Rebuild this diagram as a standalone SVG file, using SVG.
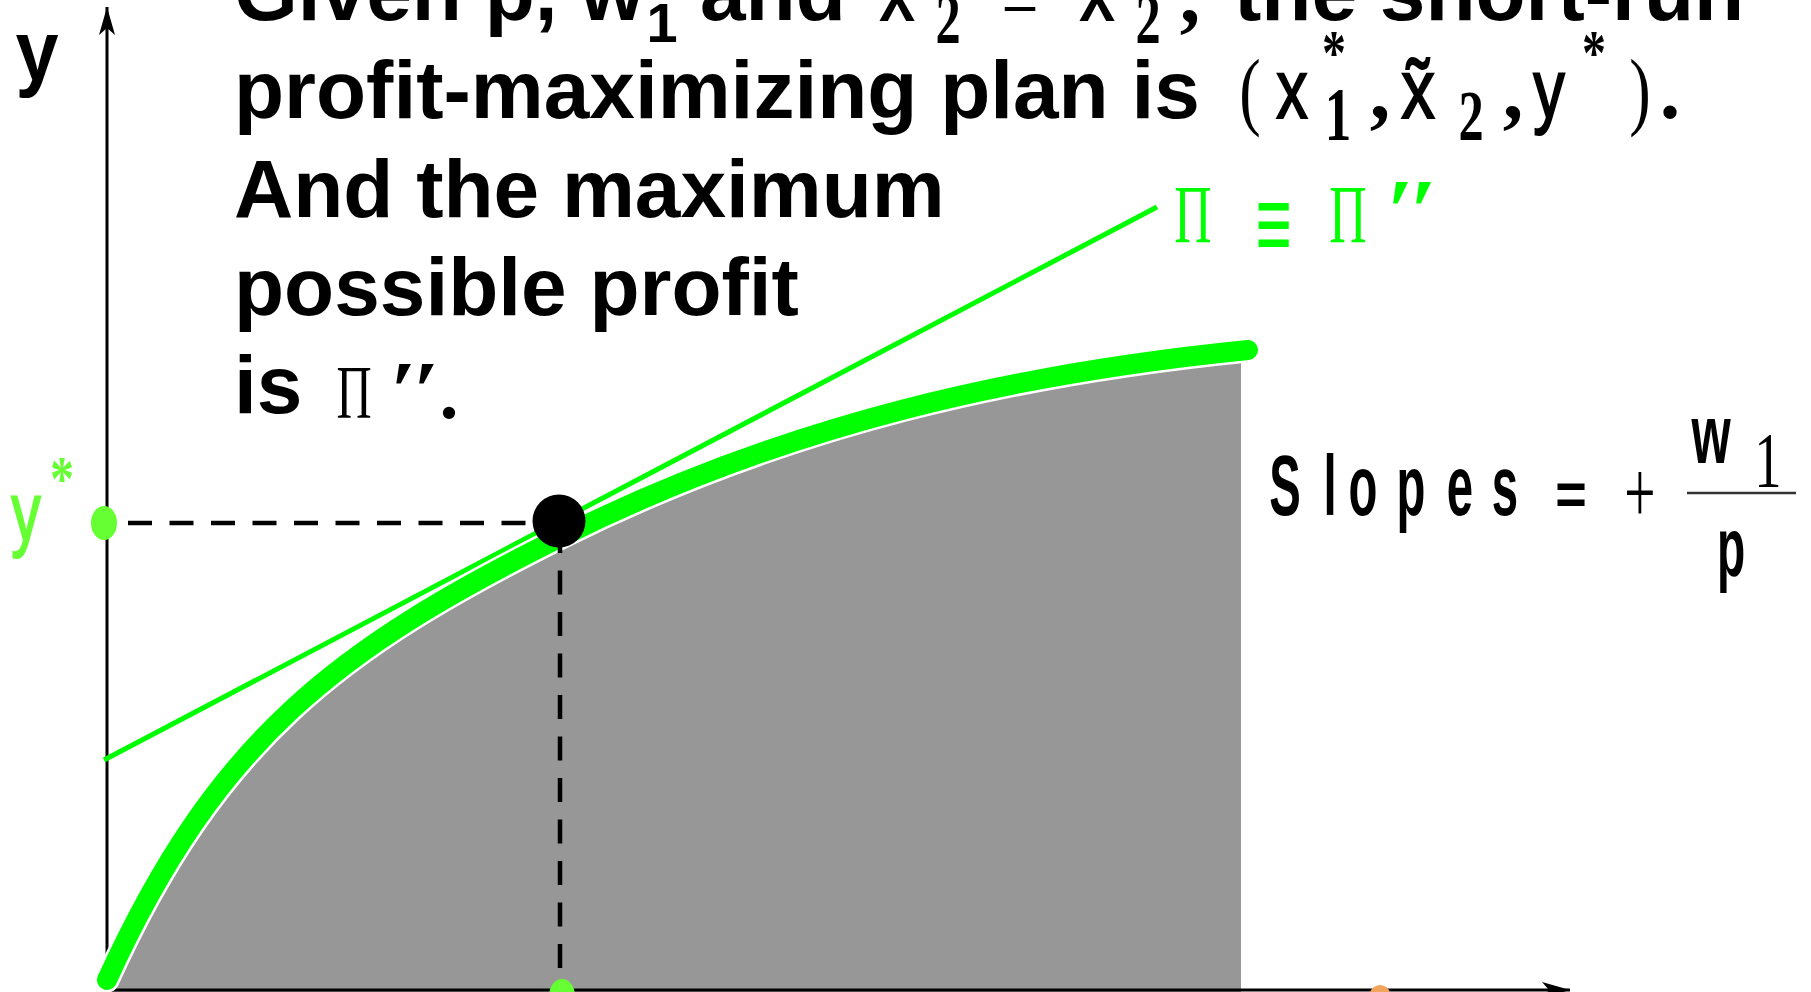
<svg xmlns="http://www.w3.org/2000/svg" width="1811" height="992" viewBox="0 0 1811 992">
<style>
.b{font-family:"Liberation Sans",Arial,sans-serif;font-weight:bold;font-size:82px;fill:#000}
.bm{font-family:"Liberation Sans",Arial,sans-serif;font-weight:bold;fill:#000;text-anchor:middle}
.m{font-family:"Liberation Sans",Arial,sans-serif;font-size:84px;fill:#000;stroke:#000;stroke-width:2;text-anchor:middle}
.s{font-family:"Liberation Serif","Times New Roman",serif;fill:#000;text-anchor:middle}
.sb{font-family:"Liberation Serif","Times New Roman",serif;font-weight:bold;fill:#000;text-anchor:middle}
.g{fill:#00ff00}
.lg{fill:#66ff33}
.lgs{fill:#66ff33;stroke:#66ff33}
.axis{stroke:#000;stroke-width:3;fill:none}
.dash{stroke:#000;stroke-width:4.5;stroke-dasharray:24 17.5;fill:none}
</style>
<defs>
<marker id="ah" markerUnits="userSpaceOnUse" markerWidth="32" markerHeight="20" refX="28" refY="8" orient="auto">
<path d="M0,0 L28,8 L0,16 L7,8 Z" fill="#000"/>
</marker>
<clipPath id="gclip"><rect x="0" y="0" width="1241" height="992"/></clipPath>
</defs>

<g id="area">
<path clip-path="url(#gclip)" fill="#979797" d="M107,980 C217,738 339,648 559,538 C789,423 1018,373 1248,350 L1248,992 L107,992 Z"/>
</g>

<g id="axes">
<line class="axis" x1="107" y1="990" x2="107" y2="7" marker-end="url(#ah)"/>
<line class="axis" x1="107" y1="990" x2="1570" y2="990" marker-end="url(#ah)"/>
</g>

<g id="connectors">
<line id="tangent" x1="104" y1="760" x2="1157" y2="207" stroke="#00ff00" stroke-width="5"/>
<path id="curve-halo" fill="none" stroke="#fff" stroke-width="25" stroke-linecap="round" d="M107,980 C217,738 339,648 559,538 C789,423 1018,373 1248,350"/>
<path id="curve" fill="none" stroke="#00ff00" stroke-width="20" stroke-linecap="round" d="M107,980 C217,738 339,648 559,538 C789,423 1018,373 1248,350"/>
<line class="dash" x1="128" y1="523" x2="530" y2="523"/>
<line class="dash" x1="560" y1="529" x2="560" y2="990"/>
</g>

<g id="point">
<circle cx="559" cy="521" r="26.5" fill="#000"/>
</g>
<g id="ystar-mark"><ellipse cx="104" cy="523" rx="13" ry="17" class="lg"/></g>
<g id="xstar-mark"><ellipse cx="562" cy="996" rx="13" ry="17" class="lg"/></g>
<g id="speck"><ellipse cx="1380" cy="994" rx="10" ry="9" fill="#f2a45c"/></g>

<g id="y-label">
<text class="bm" font-size="86" transform="translate(37,80) scale(0.9,1)">y</text>
</g>

<g id="ystar-label">
<text class="m lgs" transform="translate(26,541) scale(0.7,1)">y</text>
<text class="sb lg" font-size="64" transform="translate(62,500) scale(0.75,1)">*</text>
</g>

<g id="title">
<text class="b" x="234" y="20">Given p, w</text>
<text class="bm" font-size="56" x="662" y="42">1</text>
<text class="b" x="700" y="20">and</text>
<text class="m" transform="translate(897,20) scale(0.8,1)">x</text>
<text class="sb" font-size="72" transform="translate(948,43) scale(0.7,1)">2</text>
<text class="s" font-size="82" transform="translate(1020,28) scale(0.8,1)">=</text>
<text class="m" transform="translate(1097,20) scale(0.8,1)">x̃</text>
<text class="sb" font-size="72" transform="translate(1148,43) scale(0.7,1)">2</text>
<text class="sb" font-size="82" x="1190" y="22">,</text>
<text class="b" x="1234" y="20">the short-run</text>

<text class="b" x="234" y="118">profit-maximizing plan is</text>
<text class="s" font-size="86" transform="translate(1250,119) scale(0.75,1)">(</text>
<text class="m" transform="translate(1292,118) scale(0.75,1)">x</text>
<text class="sb" font-size="64" transform="translate(1334,74) scale(0.75,1)">*</text>
<text class="sb" font-size="76" transform="translate(1338,140) scale(0.7,1)">1</text>
<text class="sb" font-size="82" x="1380" y="118">,</text>
<text class="m" font-size="74" transform="translate(1418,118) scale(0.8,1)">x̃</text>
<text class="sb" font-size="72" transform="translate(1471,140) scale(0.7,1)">2</text>
<text class="sb" font-size="82" x="1513" y="118">,</text>
<text class="m" transform="translate(1549,118) scale(0.75,1)">y</text>
<text class="sb" font-size="64" transform="translate(1594,74) scale(0.75,1)">*</text>
<text class="s" font-size="86" transform="translate(1640,119) scale(0.75,1)">)</text>
<text class="sb" font-size="82" x="1670" y="118">.</text>

<text class="b" x="234" y="217">And the maximum</text>
<text class="b" x="234" y="315">possible profit</text>
<text class="b" x="234" y="413">is</text>
<text class="s" font-size="76" transform="translate(354,418) scale(0.64,1)">Π</text>
<text class="s" font-size="76" transform="translate(415,418) scale(1.6,1.1)">″</text>
<text class="sb" font-size="76" x="449" y="418">.</text>
</g>

<g id="pi-label">
<text class="s g" font-size="82" transform="translate(1193,242) scale(0.63,1)">Π</text>
<text class="sb g" font-size="108" transform="translate(1274,261) scale(0.6,1)">≡</text>
<text class="s g" font-size="82" transform="translate(1348,242) scale(0.63,1)">Π</text>
<text class="s g" font-size="82" transform="translate(1412,242) scale(1.5,1.1)">″</text>
</g>

<g id="slopes-label">
<text class="bm" font-size="86" transform="translate(1285,515) scale(0.55,1)">S</text>
<text class="bm" font-size="86" transform="translate(1330,515) scale(0.55,1)">l</text>
<text class="bm" font-size="86" transform="translate(1363,515) scale(0.55,1)">o</text>
<text class="bm" font-size="86" transform="translate(1411,515) scale(0.55,1)">p</text>
<text class="bm" font-size="86" transform="translate(1460,515) scale(0.55,1)">e</text>
<text class="bm" font-size="86" transform="translate(1505,515) scale(0.55,1)">s</text>
<text class="bm" font-size="60" transform="translate(1571,514) scale(0.9,1)">=</text>
<text class="s" font-size="88" transform="translate(1640,522) scale(0.63,1)">+</text>
<text class="bm" font-size="84" transform="translate(1711,463) scale(0.6,1)">w</text>
<text class="s" font-size="78" transform="translate(1768,486) scale(0.7,1)">1</text>
<line x1="1687" y1="493" x2="1796" y2="493" stroke="#333" stroke-width="2.5"/>
<text class="bm" font-size="84" transform="translate(1731,576) scale(0.55,1)">p</text>
</g>
</svg>
